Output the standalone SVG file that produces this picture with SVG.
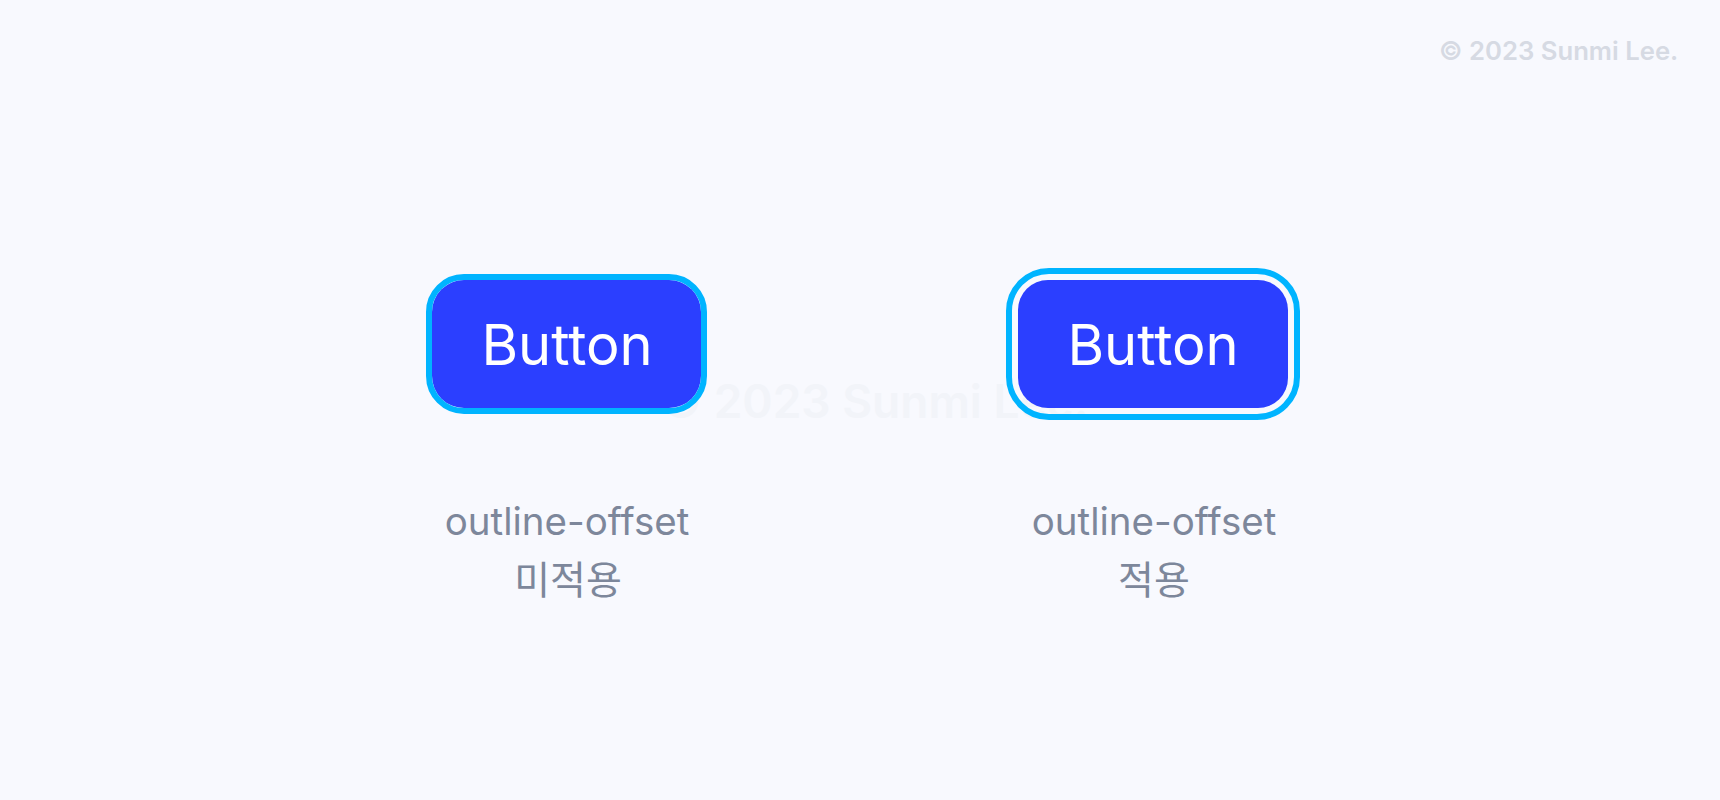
<svg xmlns="http://www.w3.org/2000/svg" width="1720" height="800" viewBox="0 0 1720 800">
  <style>
    .bg { fill: #F8F9FE; }
    .btn { fill: #2B3FFF; }
    .outline { fill: none; stroke: #00B4FF; stroke-width: 6; }
    .btn-text { font-family: Inter, "Liberation Sans", sans-serif; font-size: 56px; fill: #FFFFFF; text-anchor: middle; }
    .label { font-family: Inter, "Noto Sans CJK KR", "Liberation Sans", sans-serif; font-size: 38.5px; fill: #7D879B; text-anchor: middle; }
    .label-kr { font-family: "Noto Sans CJK KR", Inter, sans-serif; font-size: 39px; fill: #7D879B; text-anchor: middle; }
    .copy { font-family: Inter, "Liberation Sans", sans-serif; font-weight: 600; font-size: 25.7px; fill: #D6DAE3; }
    .watermark { font-family: Inter, "Liberation Sans", sans-serif; font-weight: 600; font-size: 46px; fill: #F2F4F9; }
  </style>
  <rect class="bg" x="0" y="0" width="1720" height="800"/>
  <text class="copy" x="1439" y="60">© 2023 Sunmi Lee.</text>
  <text class="watermark" x="660" y="418">© 2023 Sunmi Lee.</text>
  <g id="connectors"/>
  <g id="button-no-offset">
    <rect class="btn" x="432" y="280" width="269" height="128" rx="32" ry="32"/>
    <rect class="outline" x="429" y="277" width="275" height="134" rx="35" ry="35"/>
    <text class="btn-text" x="567" y="365">Button</text>
  </g>
  <g id="button-offset">
    <rect class="btn" x="1018" y="280" width="270" height="128" rx="30" ry="30"/>
    <rect class="outline" x="1009" y="271" width="288" height="146" rx="40" ry="40"/>
    <text class="btn-text" x="1153" y="365">Button</text>
  </g>
  <g id="label-no-offset">
    <text class="label" x="567" y="535">outline-offset</text>
    <text class="label-kr" x="568" y="594">미적용</text>
  </g>
  <g id="label-offset">
    <text class="label" x="1154" y="535">outline-offset</text>
    <text class="label-kr" x="1154" y="594">적용</text>
  </g>
</svg>
